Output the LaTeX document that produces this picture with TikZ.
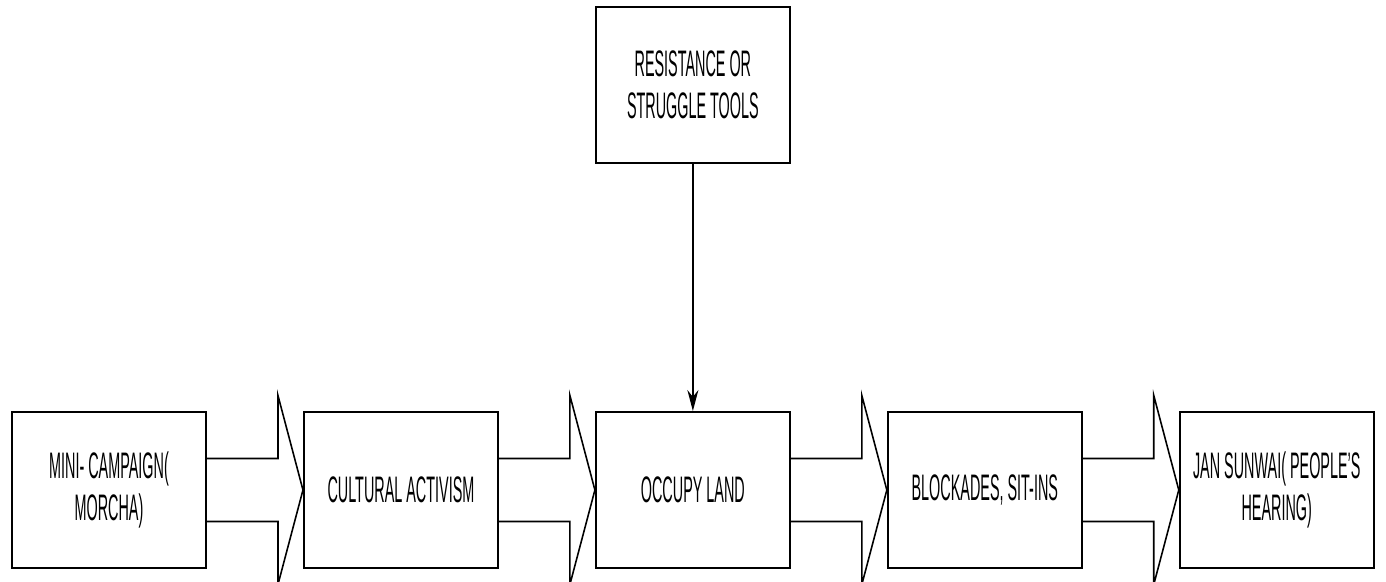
\documentclass[tikz,border=0pt]{standalone}
\usepackage{fontspec}
\setmainfont{Liberation Sans}[FakeStretch=0.39]
\usetikzlibrary{arrows.meta,positioning,calc}

\begin{document}
\begin{tikzpicture}[
  >=Stealth,
  stage/.style={
    draw, line width=1.1pt, minimum width=3.88cm, minimum height=3.12cm,
    align=center, inner sep=0pt, font=\fontsize{21}{24}\selectfont,
  },
  fatarrow/.style={draw, line width=0.9pt, line join=miter},
  link/.style={-{Stealth[length=0.42cm,width=0.22cm]}, line width=0.8pt},
  node distance=1.92cm,
]
\useasboundingbox (0,0) rectangle (27.72,11.62);

% ── Stages ──────────────────────────────────────────────────────────
\node[stage] (mini) at (2.18,1.82) {MINI- CAMPAIGN(\\MORCHA)};
\node[stage, right=of mini]  (cult)  {CULTURAL ACTIVISM};
\node[stage, right=of cult]  (occ)   {OCCUPY LAND};
\node[stage, right=of occ]   (block) {BLOCKADES, SIT-INS};
\node[stage, right=of block] (jan)   {JAN SUNWAI( PEOPLE'S\\HEARING)};

% Tools
\node[stage, above=4.94cm of occ] (tools) {RESISTANCE OR\\STRUGGLE TOOLS};

% ── Block arrows ────────────────────────────────────────────────────
\foreach \a/\b in {mini/cult, cult/occ, occ/block, block/jan} {
  \draw[fatarrow] ($(\a.east)+(0,0.63)$) -- ($(\b.west)+(-0.5,0.63)$)
    -- ++(0,1.26) -- (\b.west) -- ($(\b.west)+(-0.5,-1.89)$)
    -- ++(0,1.26) -- ($(\a.east)+(0,-0.63)$);
}

% ── Connections ─────────────────────────────────────────────────────
\draw[link] (tools) -- (occ);

\end{tikzpicture}
\end{document}
